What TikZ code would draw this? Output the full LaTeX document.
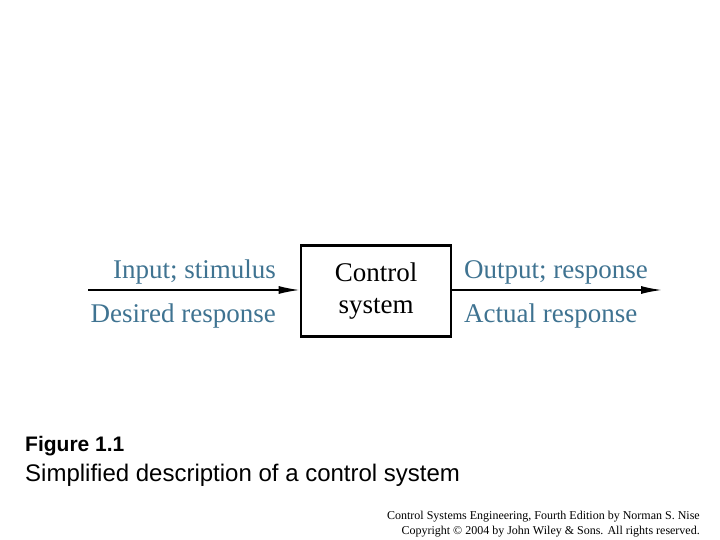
\documentclass[tikz,border=0pt]{standalone}
\usepackage{fontspec}
\setmainfont{Liberation Serif}
\newfontfamily\arialf{Liberation Sans}
\usetikzlibrary{arrows.meta}
\definecolor{lbl}{HTML}{3F7391}
\begin{document}
\begin{tikzpicture}[x=1pt,y=-1pt,
  lab/.style={text=lbl,font=\fontsize{27}{30}\selectfont,inner sep=0pt},
  sig/.style={line width=1.6pt,-{Latex[length=21pt,width=8pt]}}]
\useasboundingbox (0,0) rectangle (720,540);
\node[draw,line width=2.6pt,minimum width=150pt,minimum height=91pt,inner sep=0pt,
  align=center,font=\fontsize{27}{32}\selectfont] (cs) at (376,291) {Control\\system};
\coordinate (in) at (88,290);
\coordinate (out) at (662,290);
\draw[sig] (in) -- (cs.west |- in);
\draw[sig] (cs.east |- out) -- (out);
\node[lab,anchor=base east] (i1) at (276,278) {Input; stimulus};
\node[lab,anchor=base east] (i2) at (276,322) {Desired response};
\node[lab,anchor=base west] (o1) at (464,278) {Output; response};
\node[lab,anchor=base west] (o2) at (464,322) {Actual response};
\node[anchor=base west,inner sep=0pt,font=\arialf\bfseries\fontsize{21}{24}\selectfont] (fig) at (25,451) {Figure 1.1};
\node[anchor=base west,inner sep=0pt,font=\arialf\fontsize{24}{27}\selectfont] (cap) at (25,481) {Simplified description of a control system};
\node[anchor=base east,inner sep=0pt,align=right,font=\fontsize{12}{15}\selectfont] (ft) at (700,519) {Control Systems Engineering, Fourth Edition by Norman S. Nise};
\node[anchor=base east,inner sep=0pt,font=\fontsize{12}{15}\selectfont] (ft2) at (700,534.5) {Copyright © 2004 by John Wiley \& Sons. All rights reserved.};
\end{tikzpicture}
\end{document}
